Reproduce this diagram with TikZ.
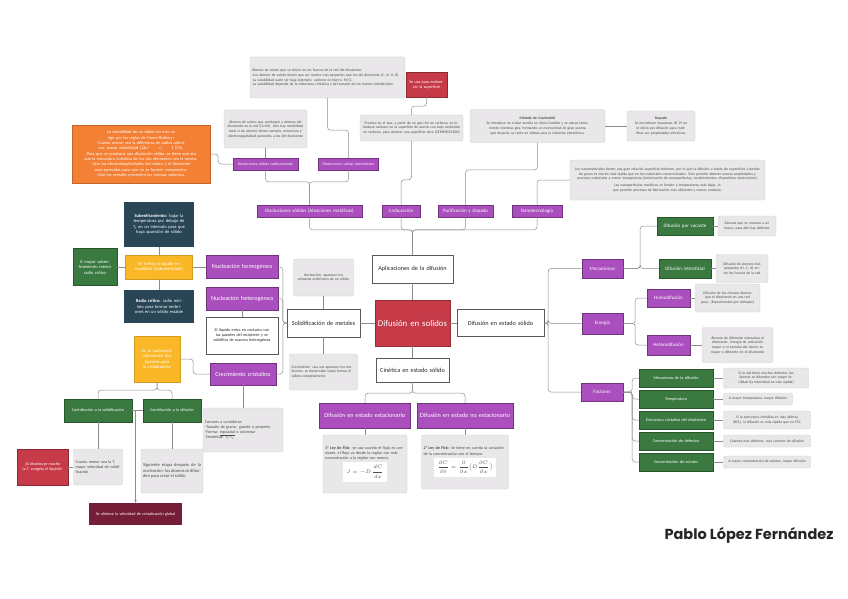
\documentclass[tikz,border=0pt]{standalone}
\usepackage{amsmath}
\usepackage{fontspec}
\setmainfont{Carlito}
\newfontfamily\poppins{Poppins}
\usepackage{xcolor}
\usetikzlibrary{arrows.meta,calc}

\definecolor{morado}{RGB}{171,78,190}
\definecolor{verde}{RGB}{58,122,64}
\definecolor{petroleo}{RGB}{40,70,86}
\definecolor{amarillo}{RGB}{250,184,40}
\definecolor{naranja}{RGB}{243,128,52}
\definecolor{rojo}{RGB}{199,58,72}
\definecolor{granate}{RGB}{118,30,56}
\definecolor{grisfondo}{RGB}{233,231,233}

\newcommand\ftiny{\fontsize{3.7}{4.7}\selectfont}
\newcommand\fxs{\fontsize{4.1}{5.1}\selectfont}
\newcommand\fsmall{\fontsize{4.5}{5.5}\selectfont}
\newcommand\fmid{\fontsize{5}{6}\selectfont}
\newcommand\fmed{\fontsize{6.2}{7.2}\selectfont}
\newcommand\fbig{\fontsize{8.8}{10}\selectfont}

\begin{document}
\begin{tikzpicture}[x=1pt, y=-1pt,
    caja/.style 2 args={minimum width=#1pt, minimum height=#2pt, text width=#1pt-4pt,
        inner xsep=2pt, inner ysep=1pt, align=center},
    nota/.style={draw=black!18, fill=grisfondo, rounded corners=2pt, font=\ftiny, text=black!70},
    tema/.style={draw=morado!65!black, fill=morado, text=white, font=\fmed},
    hoja/.style={draw=verde!70!black, fill=verde, text=white, font=\fsmall},
    oscuro/.style={fill=petroleo, text=white, font=\fsmall},
    aviso/.style={draw=amarillo!85!black, fill=amarillo, text=white, font=\fsmall},
    marco/.style={draw=black!65, fill=white, font=\fmed, text=black!85},
    alerta/.style={draw=rojo!70!black, fill=rojo, text=white, font=\fxs},
    final/.style={fill=granate, text=white, font=\fxs},
    lista/.style={draw=naranja!80!black, fill=naranja, text=white, font=\fontsize{4.3}{5.3}\selectfont},
    linea/.style={draw=black!45, line width=0.5pt, rounded corners=3pt}]
    \fill[white] (0,0) rectangle (848,599);
    \useasboundingbox (0,0) rectangle (848,599);

    % parte superior: aplicaciones
    \node[nota, caja={155}{41}, align=left] (grisInter) at (327.5,77.5) {Átomos de soluto que se sitúan en los huecos de la red del disolvente.\\
        -Los átomos de soluto tienen que ser mucho más pequeños que los del disolvente (C, N, H, B).\\
        -La solubilidad suele ser baja (ejemplo: carbono en hierro, Fe-C).\\
        -La solubilidad depende de la estructura cristalina y del tamaño de los huecos intersticiales.};
    \node[alerta, caja={41}{25}] (superficie) at (426.5,84.5) {Se usa para endurecer la superficie};
    \node[nota, caja={103}{26}] (grisCarb) at (411.5,128) {Proceso en el que, a partir de un gas rico en carbono, se introduce carbono en la superficie de aceros con bajo contenido en carbono, para obtener una superficie dura (CEMENTACIÓN)};
    \node[nota, caja={83}{38}] (grisSust) at (265.5,129) {Átomos de soluto que sustituyen a átomos del disolvente en la red (Cu-Ni). Solo hay solubilidad total si los átomos tienen tamaño, estructura y electronegatividad parecidos a los del disolvente};
    \node[nota, caja={135}{33}] (czo) at (537.5,126) {\textbf{Método de Czochralski}\\ Se introduce un cristal semilla en silicio fundido y se extrae lentamente mientras gira, formando un monocristal de gran pureza que después se corta en obleas para la industria electrónica.};
    \node[nota, caja={68}{30}] (dop) at (661,126) {\textbf{Dopado}\\ Se introducen impurezas (B, P) en el silicio por difusión para modificar sus propiedades eléctricas.};
    \node[nota, caja={195}{40}] (nanoG) at (667.5,180) {Los nanomateriales tienen una gran relación superficie/volumen, por lo que la difusión a través de superficies y bordes de grano es mucho más rápida que en los materiales convencionales. Esto permite obtener nuevas propiedades y procesar materiales a menor temperatura (sinterización de nanopartículas, recubrimientos, dispositivos electrónicos).\\[2pt]
        Las nanopartículas metálicas se funden a temperaturas más bajas, lo que permite procesos de fabricación más eficientes y menos costosos.};
    \node[lista, caja={138}{58}] (reglas) at (141,154) {La solubilidad de un sólido en otro se rige por las reglas de Hume-Rothery:\\
        -Cuanto menor sea la diferencia de radios atómicos, mayor solubilidad ($\Delta r<15\%$).\\
        -Para que se produzca una disolución sólida, se tiene que dar que la estructura cristalina de los dos elementos sea la misma.\\
        -Que las electronegatividades del soluto y el disolvente sean parecidas para que no se formen compuestos.\\
        -Que los metales presenten las mismas valencias.};
    \node[tema, caja={65}{12}, font=\fontsize{3.8}{4.5}\selectfont] (sust) at (265.5,164) {Disoluciones sólidas sustitucionales};
    \node[tema, caja={60}{12}, font=\fontsize{3.8}{4.5}\selectfont] (inter) at (348.5,164) {Disoluciones sólidas intersticiales};

    \node[tema, caja={105}{12}, font=\fmid] (disol) at (309.5,211) {Disoluciones sólidas (Aleaciones metálicas)};
    \node[tema, caja={38}{12}, font=\fmid] (carb) at (401,211) {Carburación};
    \node[tema, caja={55}{12}, font=\fmid] (puri) at (465.5,211) {Purificación y dopado};
    \node[tema, caja={50}{12}, font=\fmid] (nanoP) at (537,211) {Nanotecnología};

    % centro
    \node[marco, caja={81}{28}] (apl) at (412.5,269) {Aplicaciones de la difusión};
    \node[draw=rojo!75!black, fill=rojo, text=white, font=\fbig, caja={75}{46}] (dif) at (412.5,323) {Difusión en solidos};
    \node[marco, caja={73}{24}] (cin) at (412.5,370) {Cinética en estado sólido};
    \node[marco, caja={87}{27}] (dsol) at (500.5,323) {Difusión en estado sólido};
    \node[marco, caja={73}{28}] (sol) at (323.5,323) {Solidificación de metales};
    \node[nota, caja={60}{37}] (nuclG) at (323.5,277.5) {Nucleación: aparecen los primeros embriones de un sólido};
    \node[nota, caja={68}{36}, align=left] (crecG) at (323.5,372) {Crecimiento: una vez aparecen los embriones, se desarrollan hasta formar el sólido completamente};

    % solidificacion
    \node[oscuro, caja={70}{45}] (subenf) at (159,224.5) {\textbf{Subenfriamiento:} bajar la temperatura por debajo de T\textsubscript{f} en un intervalo para que haya aparición de sólido};
    \node[aviso, caja={67}{24}] (amar1) at (159,267) {Se enfría el líquido en equilibrio (Sobreenfriado)};
    \node[oscuro, caja={70}{33}] (radio) at (159,306.5) {\textbf{Radio crítico:} radio mínimo para formar embriones en un sólido estable};
    \node[hoja, caja={44}{37}] (mayor) at (95,267) {A mayor subenfriamiento menor radio crítico};
    \node[tema, caja={72}{23}] (nucHom) at (242,267) {Nucleación homogénea};
    \node[tema, caja={72}{23}] (nucHet) at (242,298.5) {Nucleación heterogénea};
    \node[marco, caja={72}{37}, font=\fxs] (hetW) at (242,335.5) {El líquido entra en contacto con las paredes del recipiente y se solidifica de manera heterogénea};
    \node[tema, caja={66}{22}] (crec) at (243,374) {Crecimiento cristalino};
    \node[nota, caja={80}{44}, align=left, font=\fxs] (crecF) at (243,430) {Factores a considerar:\\
        -Tamaño de grano: grande o pequeño\\
        -Forma: \underline{equiaxial} o columnar\\
        -Dendritas: T\textsubscript{f}-T\textsubscript{e}};
    \node[aviso, caja={46}{46}] (amar2) at (157,359) {En la nucleación intervienen dos factores para la cristalización};
    \node[hoja, caja={68}{23}, font=\fxs] (contSol) at (98,410.5) {Contribución a la solidificación};
    \node[hoja, caja={58}{23}, font=\fxs] (contDif) at (172,410.5) {Contribución a la difusión};
    \node[alerta, caja={51}{36}] (rojoT) at (42.5,467) {¡Si disminuye mucho la T, congela el líquido!};
    \node[nota, caja={49}{36}, align=left, font=\fxs] (grisT) at (98,467) {Cuanto menor sea la T, mayor velocidad de solidificación};
    \node[nota, caja={62}{44}, align=justify, font=\fsmall] (grisSig) at (172,471) {Siguiente etapa después de la nucleación: los átomos se difunden para crear el sólido};
    \node[final, caja={93}{22}] (granate) at (135.5,514) {Se obtiene la velocidad de cristalización global};

    % cinetica
    \node[tema, caja={91}{25}] (estac) at (365,415.5) {Difusión en estado estacionario};
    \node[tema, caja={96}{25}] (noEstac) at (465,415.5) {Difusión en estado no estacionario};
    \node[nota, caja={84}{58}, align=left, font=\fxs] (grisEst) at (365,464) {\textbf{1ª Ley de Fick:} se usa cuando el flujo es constante, el flujo va desde la región con más concentración a la región con menos.\\[1pt]
        \makebox[\linewidth][c]{\colorbox{white}{\fsmall$J=-D\,\dfrac{dC}{dx}$}}};
    \node[nota, caja={87}{54}, align=left, font=\fxs] (grisNo) at (465,462) {\textbf{2ª Ley de Fick:} Se tiene en cuenta la variación de la concentración con el tiempo.\\[1pt]
        \makebox[\linewidth][c]{\colorbox{white}{\fsmall$\dfrac{\partial C}{\partial t}=\dfrac{\partial}{\partial x}\Big(D\dfrac{\partial C}{\partial x}\Big)$}}};

    % difusion en estado solido
    \node[tema, caja={41}{19}, font=\fmid] (meca) at (602.5,268.5) {Mecanismos};
    \node[tema, caja={41}{21}, font=\fmid] (ener) at (602.5,323.5) {Energía};
    \node[tema, caja={42}{18}, font=\fmid] (fact) at (602,392) {Factores};
    \node[hoja, caja={56}{18}, font=\fmid] (difVac) at (685,226) {Difusión por vacante};
    \node[nota, caja={58}{20}] (grisVac) at (747,226) {Átomos que se mueven a un hueco, para ello hay defectos};
    \node[hoja, caja={52}{19}, font=\fmid] (difInt) at (685,268.5) {Difusión intersticial};
    \node[nota, caja={52}{28}] (grisInt) at (742,268.5) {Difusión de átomos más pequeños (H, C, N) entre los huecos de la red};
    \node[tema, caja={43}{18}, font=\fmid] (homo) at (668.5,298) {Homodifusión};
    \node[nota, caja={65}{28}] (grisHomo) at (727.5,298) {Difusión de los mismos átomos que el disolvente en una red pura. (Experimentos por isótopos)};
    \node[tema, caja={43}{20}, font=\fmid] (hetero) at (668.5,345) {Heterodifusión};
    \node[nota, caja={71}{35}] (grisHetero) at (737.5,345) {Átomos de diferente naturaleza al disolvente. Energía de activación mayor si el tamaño del átomo es mayor o diferente en el disolvente};
    \node[hoja, caja={74}{18}, font=\fontsize{4.2}{5}\selectfont] (mecD) at (676,378) {Mecanismo de la difusión};
    \node[hoja, caja={74}{18}, font=\fontsize{4.2}{5}\selectfont] (temp) at (676,399) {Temperatura};
    \node[hoja, caja={74}{18}, font=\fontsize{4.2}{5}\selectfont] (estr) at (676,420) {Estructura cristalina del disolvente};
    \node[hoja, caja={74}{18}, font=\fontsize{4.2}{5}\selectfont] (conc) at (676,441) {Concentración de defectos};
    \node[hoja, caja={74}{18}, font=\fontsize{4.2}{5}\selectfont] (solu) at (676,462) {Concentración de solutos};
    \node[nota, caja={85}{20}] (g1) at (766,378) {Si la red tiene muchos defectos, los átomos se difunden con mayor facilidad (la intersticial es más rápida)};
    \node[nota, caja={69}{12}] (g2) at (758,399) {A mayor temperatura, mayor difusión};
    \node[nota, caja={87}{18}] (g3) at (767,420) {Si la estructura cristalina es más abierta (BCC), la difusión es más rápida que en FCC};
    \node[nota, caja={87}{12}] (g4) at (767,441) {Cuantos más defectos, más caminos de difusión};
    \node[nota, caja={87}{12}] (g5) at (767,462) {A mayor concentración de solutos, mayor difusión};

    \node[font=\poppins\bfseries\fontsize{14.5}{16}\selectfont, text=black!85] (autor) at (749,535.5) {Pablo López Fernández};

    % conectores
    \draw[linea] (apl.north) -- ++(0,-25) -| (disol.south);
    \draw[linea] (apl.north) -- ++(0,-25) -| (carb.south);
    \draw[linea] (apl.north) -- ++(0,-25) -| (puri.south);
    \draw[linea] (apl.north) -- ++(0,-25) -| (nanoP.south);
    \draw[linea] (disol.north) -- ++(0,-23) -| (sust.south);
    \draw[linea] (disol.north) -- ++(0,-23) -| (inter.south);
    \draw[linea] (grisSust.south) -- (sust.north);
    \draw[linea] (reglas.east) -- ++(8,0) |- (sust.west);
    \draw[linea] (grisInter.south) -- ++(0,32) -| (inter.north);
    \draw[linea] (superficie.south) -- ++(0,9) -| (grisCarb.north);
    \draw[linea] (carb.north) -- ++(0,-25) -| (grisCarb.south);
    \draw[linea] (puri.north) -- ++(0,-35) -| (czo.south);
    \draw[linea] (czo.east) -- (dop.west);
    \draw[linea] (nanoP.north) |- (nanoG.west);

    \draw[linea] (dif.north) -- (apl.south);
    \draw[linea] (dif.south) -- (cin.north);
    \draw[linea] (dif.west) -- (sol.east);
    \draw[linea] (dif.east) -- (dsol.west);

    \draw[linea] (sol.north) -- (nuclG.south);
    \draw[linea] (sol.south) -- (crecG.north);
    \draw[linea] (sol.west) -- ++(-4,0) |- (nucHom.east);
    \draw[linea] (sol.west) -- ++(-4,0) |- (nucHet.east);
    \draw[linea] (sol.west) -- ++(-4,0) |- (crec.east);
    \draw[linea] (nucHom.west) -- (amar1.east);
    \draw[linea] (amar1.north) -- (subenf.south);
    \draw[linea] (amar1.south) -- (radio.north);
    \draw[linea] (amar1.west) -- (mayor.east);
    \draw[linea] (nucHet.south) -- (hetW.north);
    \draw[linea] (amar2.east) -- ++(13,0) |- (crec.west);
    \draw[linea] (crec.south) -- (crecF.north);
    \draw[linea] (amar2.south) -- ++(0,8) -| (contSol.north);
    \draw[linea] (amar2.south) -- ++(0,8) -| (contDif.north);
    \draw[linea] (contSol.south) -- (grisT.north);
    \draw[linea] (rojoT.east) -- (grisT.west);
    \draw[linea] (contDif.south) -- (grisSig.north);
    \draw[linea] (contSol.east) -- (contDif.west);
    \coordinate (cruce) at (granate.north |- contSol.east);
    \draw[linea, -{Stealth[length=3pt,width=2.6pt]}] (cruce) -- (granate.north);

    \draw[linea] (cin.south) -- ++(0,11) -| (estac.north);
    \draw[linea] (cin.south) -- ++(0,11) -| (noEstac.north);
    \draw[linea] (estac.south) -- (grisEst.north);
    \draw[linea] (noEstac.south) -- (grisNo.north);

    \draw[linea] (dsol.east) -- ++(4,0) |- (meca.west);
    \draw[linea] (dsol.east) -- ++(4,0) |- (ener.west);
    \draw[linea] (dsol.east) -- ++(4,0) |- (fact.west);
    \draw[linea] (meca.east) -- ++(17,0) |- (difVac.west);
    \draw[linea] (meca.east) -- ++(17,0) |- (difInt.west);
    \draw[linea] (ener.east) -- ++(12,0) |- (homo.west);
    \draw[linea] (ener.east) -- ++(12,0) |- (hetero.west);
    \draw[linea] (fact.east) -- ++(9,0) |- (mecD.west);
    \draw[linea] (fact.east) -- ++(9,0) |- (temp.west);
    \draw[linea] (fact.east) -- ++(9,0) |- (estr.west);
    \draw[linea] (fact.east) -- ++(9,0) |- (conc.west);
    \draw[linea] (fact.east) -- ++(9,0) |- (solu.west);
    \draw[linea] (difVac.east) -- (grisVac.west);
    \draw[linea] (difInt.east) -- (grisInt.west);
    \draw[linea] (homo.east) -- (grisHomo.west);
    \draw[linea] (hetero.east) -- (grisHetero.west);
    \draw[linea] (mecD.east) -- (g1.west);
    \draw[linea] (temp.east) -- (g2.west);
    \draw[linea] (estr.east) -- (g3.west);
    \draw[linea] (conc.east) -- (g4.west);
    \draw[linea] (solu.east) -- (g5.west);
\end{tikzpicture}
\end{document}
